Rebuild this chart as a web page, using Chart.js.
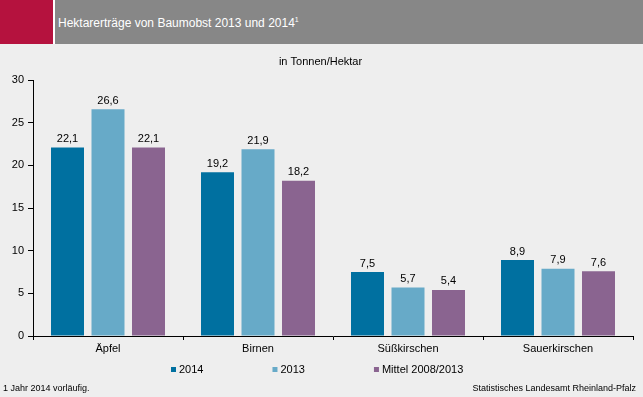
<!DOCTYPE html>
<html>
<head>
<meta charset="utf-8">
<script src="https://cdn.jsdelivr.net/npm/chart.js@4"></script>
<style>
  body { margin: 0; background: #eeeeee; font-family: "Liberation Sans", Arial, sans-serif; }
  #wrap { position: relative; width: 643px; height: 397px; overflow: hidden; background: #eeeeee; }
  #red { position: absolute; left: 0; top: 0; width: 53px; height: 44px; background: #b5123e; }
  #band { position: absolute; left: 53px; top: 0; width: 588px; height: 44px; background: #878787; border-left: 2px solid #ffffff; }
  #head { position: absolute; left: 58px; top: 16px; color: #ffffff; font-size: 12px; white-space: nowrap; }
  #head sup { font-size: 7px; vertical-align: 5px; line-height: 0; }
  canvas { position: absolute; left: 0; top: 0; }
  .foot { position: absolute; top: 383px; font-size: 9px; color: #000; white-space: nowrap; }
</style>
</head>
<body>
<div id="wrap">
  <div id="red"></div>
  <div id="band"></div>
  <div id="head">Hektarerträge von Baumobst 2013 und 2014<sup>1</sup></div>
  <canvas id="chart" width="643" height="397"></canvas>
  <div class="foot" style="left:3px">1 Jahr 2014 vorläufig.</div>
  <div class="foot" style="right:7px">Statistisches Landesamt Rheinland-Pfalz</div>
</div>
<script>
const categories = ['Äpfel', 'Birnen', 'Süßkirschen', 'Sauerkirschen'];
const values2014 = [22.1, 19.2, 7.5, 8.9];
const values2013 = [26.6, 21.9, 5.7, 7.9];
const valuesMittel = [22.1, 18.2, 5.4, 7.6];
const seriesLabels = ['2014', '2013', 'Mittel 2008/2013'];
const seriesColors = ['#0070a0', '#67aac8', '#8a6490'];
const yTicks = [0, 5, 10, 15, 20, 25, 30];

const FONT = '"Liberation Sans", Arial, sans-serif';

// Werte über den Balken (mit Dezimalkomma)
const valueLabels = {
  id: 'valueLabels',
  afterDatasetsDraw(chart) {
    const ctx = chart.ctx;
    ctx.save();
    ctx.font = '11px ' + FONT;
    ctx.fillStyle = '#000';
    ctx.textAlign = 'center';
    ctx.textBaseline = 'alphabetic';
    chart.data.datasets.forEach((ds, i) => {
      chart.getDatasetMeta(i).data.forEach((bar, j) => {
        const txt = ds.data[j].toFixed(1).replace('.', ',');
        ctx.fillText(txt, bar.x, bar.y - 5.5);
      });
    });
    ctx.restore();
  }
};

// Legende unten, wie im Original leicht links von der Mitte
const bottomLegend = {
  id: 'bottomLegend',
  afterDraw(chart) {
    const ctx = chart.ctx;
    ctx.save();
    ctx.font = '11px ' + FONT;
    ctx.textBaseline = 'alphabetic';
    let x = 171;
    chart.data.datasets.forEach(ds => {
      ctx.fillStyle = ds.backgroundColor;
      ctx.fillRect(x, 367, 5, 5);
      ctx.fillStyle = '#000';
      ctx.fillText(ds.label, x + 8, 373);
      x += 8 + ctx.measureText(ds.label).width + 69;
    });
    ctx.restore();
  }
};

const datasets = [values2014, values2013, valuesMittel].map((vals, i) => ({
  label: seriesLabels[i],
  data: vals,
  backgroundColor: seriesColors[i],
  categoryPercentage: 0.81,
  barPercentage: 0.815
}));

new Chart(document.getElementById('chart'), {
  type: 'bar',
  data: { labels: categories, datasets },
  options: {
    responsive: false,
    animation: false,
    layout: { padding: { left: 8, right: 10, top: 0, bottom: 41 } },
    plugins: {
      legend: { display: false },
      tooltip: { enabled: false },
      title: {
        display: true,
        text: 'in Tonnen/Hektar',
        color: '#000',
        font: { family: FONT, size: 11, weight: 'normal' },
        padding: { top: 55, bottom: 12 }
      }
    },
    scales: {
      x: {
        grid: { offset: true, drawOnChartArea: false, tickLength: 4, color: '#000' },
        border: { color: '#000' },
        ticks: { color: '#000', font: { family: FONT, size: 11 }, padding: 2 },
        afterFit: s => { s.height = 20; }
      },
      y: {
        min: 0,
        max: 30,
        afterBuildTicks: s => { s.ticks = yTicks.map(v => ({ value: v })); },
        grid: { drawOnChartArea: false, tickLength: 5, color: '#000' },
        border: { color: '#000' },
        ticks: { color: '#000', font: { family: FONT, size: 11 }, padding: 4 },
        afterFit: s => { s.width = 25; }
      }
    }
  },
  plugins: [valueLabels, bottomLegend]
});
</script>
</body>
</html>
